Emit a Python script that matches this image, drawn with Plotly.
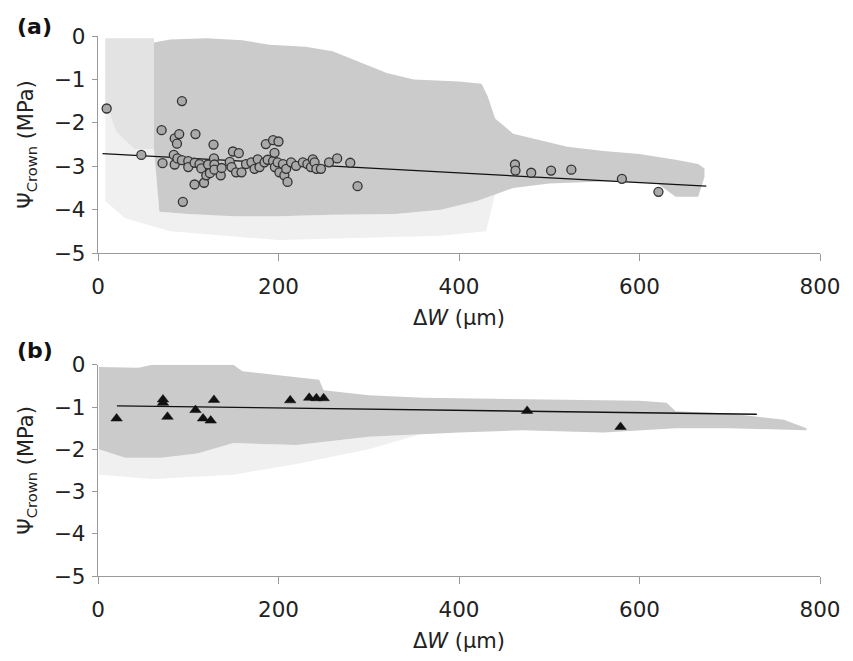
import plotly.graph_objects as go

# ---------------- Panel (a): measured crown water potential (circles) ----------------
a_dw = [9.6, 48, 70.5, 71.5, 84, 85, 87.5, 85, 88, 90, 93, 93, 94, 100, 100, 107, 107, 108,
        112.5, 114.5, 117.5, 120, 122, 124, 128, 128.5, 129, 129, 136, 137, 146, 148, 149.5,
        153, 156, 159, 164, 170, 173.5, 177, 179, 184.5, 186, 188, 194, 194, 195.6, 196, 199,
        200, 201, 205, 206.5, 208.5, 210, 214, 219.5, 227, 232, 236, 238, 240, 242, 247, 256,
        265, 279.5, 287.6, 462, 462.6, 480, 502, 524.5, 580.5, 621]
a_psi = [-1.67, -2.74, -2.17, -2.93, -2.74, -2.36, -2.48, -2.96, -2.82, -2.26, -1.50, -2.86,
         -3.82, -2.88, -3.02, -3.42, -2.92, -2.26, -2.95, -3.05, -3.38, -3.21, -2.96, -3.16,
         -2.50, -2.82, -2.96, -3.08, -3.21, -3.04, -2.90, -3.02, -2.66, -3.14, -2.70, -3.14,
         -2.95, -2.91, -3.06, -2.84, -3.02, -2.91, -2.49, -2.85, -2.40, -2.88, -2.69, -3.02,
         -2.91, -2.43, -3.14, -2.95, -3.21, -3.06, -3.36, -2.91, -2.99, -2.91, -2.95, -3.02,
         -2.84, -2.91, -3.06, -3.06, -2.91, -2.82, -2.92, -3.46, -2.96, -3.10, -3.15, -3.10,
         -3.08, -3.29, -3.59]
a_fit_dw = [5, 674]
a_fit_psi = [-2.71, -3.46]

# modelled cloud (a): dense envelope
a_cloud_dw = [62, 80, 120, 160, 190, 230, 260, 290, 320, 350, 400, 425, 432, 440, 460, 490,
              520, 560, 600, 640, 665, 672,
              672, 665, 640, 620, 560, 500, 460, 440, 420, 380, 330, 260, 200, 150, 100, 68, 62]
a_cloud_psi = [-0.15, -0.08, -0.05, -0.1, -0.2, -0.25, -0.35, -0.6, -0.85, -1.0, -1.05, -1.1,
               -1.4, -1.9, -2.25, -2.4, -2.55, -2.65, -2.72, -2.85, -2.95, -3.05,
               -3.25, -3.7, -3.7, -3.4, -3.35, -3.4, -3.5, -3.65, -3.8, -4.0, -4.1, -4.12,
               -4.15, -4.15, -4.1, -4.05, -2.6]
# sparse parts of cloud (a)
a_left_dw = [8, 62, 62, 40, 20, 8]
a_left_psi = [-0.05, -0.05, -2.6, -2.6, -2.2, -1.5]
a_low_dw = [8, 20, 40, 62, 68, 100, 150, 200, 260, 330, 380, 420, 440, 430, 380, 200, 80, 30, 8]
a_low_psi = [-1.5, -2.2, -2.6, -2.6, -4.05, -4.1, -4.15, -4.15, -4.12, -4.1, -4.0, -3.8, -3.65,
             -4.5, -4.6, -4.7, -4.5, -4.2, -3.8]

# ---------------- Panel (b): measured crown water potential (triangles) ----------------
b_dw = [20.6, 72, 72, 77, 108, 116.4, 124.9, 128.5, 213, 234, 242, 250, 475.5, 579]
b_psi = [-1.27, -0.82, -0.90, -1.23, -1.07, -1.27, -1.32, -0.83, -0.84, -0.78, -0.79, -0.79,
         -1.09, -1.47]
b_fit_dw = [21, 730]
b_fit_psi = [-0.97, -1.17]

b_cloud_dw = [1, 45, 60, 150, 160, 220, 245, 250, 300, 360, 450, 520, 600, 630, 640, 700, 760,
              785,
              785, 700, 640, 560, 470, 400, 356, 300, 220, 150, 110, 70, 30, 1]
b_cloud_psi = [-0.05, -0.07, 0.0, 0.0, -0.15, -0.3, -0.35, -0.6, -0.72, -0.78, -0.8, -0.82,
               -0.85, -0.9, -1.1, -1.15, -1.3, -1.5,
               -1.55, -1.5, -1.5, -1.6, -1.55, -1.6, -1.65, -1.7, -1.9, -1.85, -2.1, -2.2,
               -2.2, -2.0]
b_low_dw = [1, 30, 70, 110, 150, 220, 300, 356, 300, 220, 150, 60, 1]
b_low_psi = [-2.0, -2.2, -2.2, -2.1, -1.85, -1.9, -1.7, -1.65, -2.0, -2.35, -2.6, -2.7, -2.6]

x_ticks = [0, 200, 400, 600, 800]
y_ticks = [0, -1, -2, -3, -4, -5]

CLOUD = "#cbcbcb"
SPARSE = "#e3e3e3"
LOWSPARSE = "#f0f0f0"
FONT = "DejaVu Sans, Verdana, sans-serif"

fig = go.Figure()

def poly(x, y, color, xa, ya):
    fig.add_trace(go.Scatter(x=x, y=y, mode="lines", fill="toself", fillcolor=color,
                             line=dict(width=0, color=color), hoverinfo="skip",
                             showlegend=False, xaxis=xa, yaxis=ya))

# panel a
poly(a_low_dw, a_low_psi, LOWSPARSE, "x", "y")
poly(a_left_dw, a_left_psi, SPARSE, "x", "y")
poly(a_cloud_dw, a_cloud_psi, CLOUD, "x", "y")
fig.add_trace(go.Scatter(x=a_fit_dw, y=a_fit_psi, mode="lines",
                         line=dict(color="#111111", width=1.3), showlegend=False,
                         xaxis="x", yaxis="y"))
fig.add_trace(go.Scatter(x=a_dw, y=a_psi, mode="markers",
                         marker=dict(symbol="circle", size=9, color="#a9a9a9",
                                     line=dict(color="#333333", width=1.3)),
                         showlegend=False, xaxis="x", yaxis="y"))
# panel b
poly(b_low_dw, b_low_psi, LOWSPARSE, "x2", "y2")
poly(b_cloud_dw, b_cloud_psi, CLOUD, "x2", "y2")
fig.add_trace(go.Scatter(x=b_fit_dw, y=b_fit_psi, mode="lines",
                         line=dict(color="#111111", width=1.3), showlegend=False,
                         xaxis="x2", yaxis="y2"))
fig.add_trace(go.Scatter(x=b_dw, y=b_psi, mode="markers",
                         marker=dict(symbol="triangle-up", size=10, color="#111111",
                                     line=dict(color="#111111", width=0.5)),
                         showlegend=False, xaxis="x2", yaxis="y2"))

xaxis_common = dict(range=[0, 800], tickvals=x_ticks, showline=True, linecolor="#9a9a9a",
                    linewidth=1.3, ticks="outside", ticklen=7, tickcolor="#9a9a9a",
                    showgrid=False, zeroline=False, ticklabelstandoff=7,
                    tickfont=dict(family=FONT, size=21.5, color="#222"),
                    title=dict(text="Δ<i>W</i> (µm)", standoff=12,
                               font=dict(family=FONT, size=21, color="#222")))
yaxis_common = dict(range=[-5, 0], tickvals=y_ticks, showline=True, linecolor="#9a9a9a",
                    linewidth=1.3, ticks="outside", ticklen=5, tickcolor="#9a9a9a",
                    showgrid=False, zeroline=False, ticklabelstandoff=2,
                    tickfont=dict(family=FONT, size=21.5, color="#222"),
                    title=dict(text="Ψ<sub>Crown</sub> (MPa)", standoff=14,
                               font=dict(family=FONT, size=21, color="#222")))

fig.update_layout(
    width=853, height=661,
    margin=dict(l=98, r=31, t=36, b=73),
    paper_bgcolor="white", plot_bgcolor="white",
    xaxis=dict(domain=[0, 1], anchor="y", **xaxis_common),
    yaxis=dict(domain=[0.598, 1], anchor="x", **yaxis_common),
    xaxis2=dict(domain=[0, 1], anchor="y2", **xaxis_common),
    yaxis2=dict(domain=[0, 0.391], anchor="x2", **yaxis_common),
    annotations=[
        dict(text="<b>(a)</b>", xref="paper", yref="paper", x=-0.1146, y=1.018,
             xanchor="left", yanchor="middle", showarrow=False,
             font=dict(family=FONT, size=22, color="#111")),
        dict(text="<b>(b)</b>", xref="paper", yref="paper", x=-0.1146, y=0.418,
             xanchor="left", yanchor="middle", showarrow=False,
             font=dict(family=FONT, size=22, color="#111")),
    ],
)

fig.write_html("out.html")
